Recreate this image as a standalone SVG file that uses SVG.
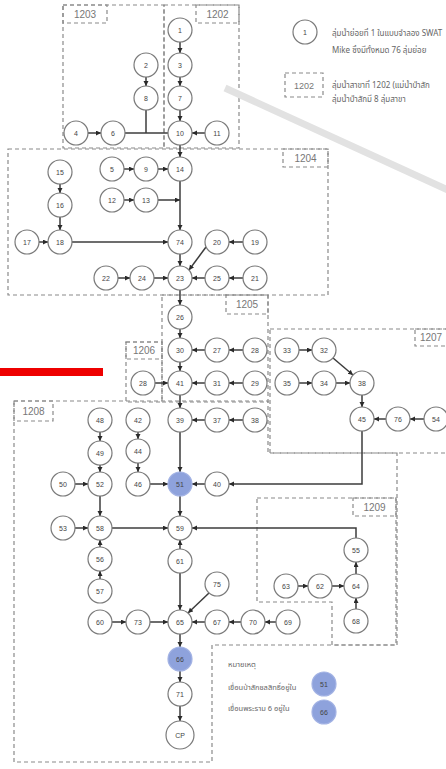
<svg xmlns="http://www.w3.org/2000/svg" width="446" height="769" viewBox="0 0 446 769">
<style>
  .bg{fill:#fff}
  .zone{fill:none;stroke:#8a8a8a;stroke-width:1.2;stroke-dasharray:4 3}
  .zl{font-family:"Liberation Sans",Arial,sans-serif;font-size:10px;fill:#777;text-anchor:middle}
  .n circle{fill:#fff;stroke:#7a7a7a;stroke-width:1.2}
  .n.dam circle{fill:#8ea2dc;stroke:#a3b3e4}
  .n text{font-family:"Liberation Sans",Arial,sans-serif;font-size:7px;fill:#444;text-anchor:middle}
  .e{fill:none;stroke:#3c3c3c;stroke-width:1.5}
  .th{font-family:"Noto Sans Thai","Noto Sans","DejaVu Sans",sans-serif;font-size:8px;fill:#666}
</style>
<defs>
  <marker id="ah" markerUnits="userSpaceOnUse" markerWidth="6" markerHeight="6" refX="5" refY="2.5" orient="auto">
    <path d="M0,0 L5,2.5 L0,5 Z" fill="#2a2a2a"/>
  </marker>
</defs>
<rect class="bg" x="0" y="0" width="446" height="769"/>

<!-- sub-basin zones -->
<g id="zones">
  <rect class="zone" x="63" y="5" width="101" height="143"/>
  <rect class="zone" x="63" y="5" width="44" height="18"/>
  <text class="zl" x="85" y="18">1203</text>
  <rect class="zone" x="164" y="5" width="75" height="143"/>
  <rect class="zone" x="196" y="5" width="43" height="18"/>
  <text class="zl" x="217.5" y="18">1202</text>
  <rect class="zone" x="8" y="149" width="320" height="146"/>
  <rect class="zone" x="283" y="149" width="45" height="18"/>
  <text class="zl" x="305.5" y="162">1204</text>
  <rect class="zone" x="162" y="295" width="106" height="107"/>
  <rect class="zone" x="226" y="295" width="42" height="19"/>
  <text class="zl" x="247" y="308">1205</text>
  <rect class="zone" x="126" y="342" width="36" height="60"/>
  <rect class="zone" x="126" y="342" width="36" height="17"/>
  <text class="zl" x="144" y="354">1206</text>
  <rect class="zone" x="270" y="329" width="190" height="124"/>
  <rect class="zone" x="415" y="329" width="45" height="17"/>
  <text class="zl" x="431" y="341">1207</text>
  <path class="zone" d="M14,401 H268 V453 H397 V645 H212 V762 H14 Z"/>
  <rect class="zone" x="14" y="401" width="39" height="20"/>
  <text class="zl" x="33.5" y="415">1208</text>
  <path class="zone" d="M257,498 H396 V645 H332 V602 H257 Z"/>
  <rect class="zone" x="353" y="498" width="43" height="18"/>
  <text class="zl" x="374.5" y="511">1209</text>
</g>

<!-- overlay marks -->
<line x1="225" y1="88" x2="450" y2="191" stroke="#e2e2e2" stroke-width="7"/>
<rect x="0" y="368" width="103" height="8" fill="#ee0000"/>

<!-- key -->
<g id="key">
  <g class="n"><circle cx="305" cy="32" r="12"/><text x="305" y="34.5">1</text></g>
  <text class="th" x="332" y="36">ลุ่มน้ำย่อยที่ 1 ในแบบจำลอง SWAT</text>
  <text class="th" x="332" y="53">Mike ซึ่งมีทั้งหมด 76 ลุ่มย่อย</text>
  <rect class="zone" x="285" y="73" width="38" height="24"/>
  <text class="zl" x="304" y="89" style="font-size:9px">1202</text>
  <text class="th" x="332" y="88">ลุ่มน้ำสาขาที่ 1202 (แม่น้ำป่าสัก</text>
  <text class="th" x="332" y="102">ลุ่มน้ำป่าสักมี 8 ลุ่มสาขา</text>
  <text class="th" x="228" y="667" style="font-size:7.5px">หมายเหตุ</text>
  <text class="th" x="228" y="690" style="font-size:7.5px">เขื่อนป่าสักชลสิทธิ์อยู่ใน</text>
  <text class="th" x="228" y="711" style="font-size:7.5px">เขื่อนพระราม 6 อยู่ใน</text>
  <g class="n dam"><circle cx="324" cy="684" r="12"/><text x="324" y="686.5">51</text></g>
  <g class="n dam"><circle cx="324" cy="712" r="12"/><text x="324" y="714.5">66</text></g>
</g>

<!-- connectors -->
<g id="connectors">
  <line class="e" x1="180" y1="42" x2="180" y2="53" marker-end="url(#ah)"/>
  <line class="e" x1="180" y1="77" x2="180" y2="86" marker-end="url(#ah)"/>
  <line class="e" x1="180" y1="110" x2="180" y2="121" marker-end="url(#ah)"/>
  <line class="e" x1="146" y1="77" x2="146" y2="86" marker-end="url(#ah)"/>
  <line class="e" x1="146" y1="110" x2="146" y2="133"/>
  <line class="e" x1="88" y1="133" x2="101" y2="133" marker-end="url(#ah)"/>
  <line class="e" x1="125" y1="133" x2="168" y2="133"/>
  <line class="e" x1="205" y1="133" x2="192" y2="133" marker-end="url(#ah)"/>
  <line class="e" x1="180" y1="145" x2="180" y2="157" marker-end="url(#ah)"/>
  <line class="e" x1="124" y1="169" x2="134" y2="169" marker-end="url(#ah)"/>
  <line class="e" x1="158" y1="169" x2="168" y2="169" marker-end="url(#ah)"/>
  <line class="e" x1="124" y1="200" x2="134" y2="200" marker-end="url(#ah)"/>
  <line class="e" x1="158" y1="200" x2="180" y2="200" marker-end="url(#ah)"/>
  <line class="e" x1="180" y1="181" x2="180" y2="230" marker-end="url(#ah)"/>
  <line class="e" x1="60" y1="184" x2="60" y2="193" marker-end="url(#ah)"/>
  <line class="e" x1="60" y1="217" x2="60" y2="230" marker-end="url(#ah)"/>
  <line class="e" x1="39" y1="242" x2="48" y2="242" marker-end="url(#ah)"/>
  <line class="e" x1="72" y1="242" x2="168" y2="242" marker-end="url(#ah)"/>
  <line class="e" x1="180" y1="254" x2="180" y2="266" marker-end="url(#ah)"/>
  <line class="e" x1="243" y1="242" x2="229" y2="242" marker-end="url(#ah)"/>
  <line class="e" x1="206" y1="247" x2="189" y2="270" marker-end="url(#ah)"/>
  <line class="e" x1="118" y1="278" x2="130" y2="278" marker-end="url(#ah)"/>
  <line class="e" x1="154" y1="278" x2="168" y2="278" marker-end="url(#ah)"/>
  <line class="e" x1="243" y1="278" x2="229" y2="278" marker-end="url(#ah)"/>
  <line class="e" x1="205" y1="278" x2="192" y2="278" marker-end="url(#ah)"/>
  <line class="e" x1="180" y1="290" x2="180" y2="305" marker-end="url(#ah)"/>
  <line class="e" x1="180" y1="329" x2="180" y2="338" marker-end="url(#ah)"/>
  <line class="e" x1="243" y1="350" x2="229" y2="350" marker-end="url(#ah)"/>
  <line class="e" x1="205" y1="350" x2="192" y2="350" marker-end="url(#ah)"/>
  <line class="e" x1="180" y1="362" x2="180" y2="371" marker-end="url(#ah)"/>
  <line class="e" x1="243" y1="383" x2="229" y2="383" marker-end="url(#ah)"/>
  <line class="e" x1="205" y1="383" x2="192" y2="383" marker-end="url(#ah)"/>
  <line class="e" x1="155" y1="383" x2="168" y2="383" marker-end="url(#ah)"/>
  <line class="e" x1="180" y1="395" x2="180" y2="408" marker-end="url(#ah)"/>
  <line class="e" x1="243" y1="420" x2="229" y2="420" marker-end="url(#ah)"/>
  <line class="e" x1="205" y1="420" x2="192" y2="420" marker-end="url(#ah)"/>
  <line class="e" x1="180" y1="432" x2="180" y2="472" marker-end="url(#ah)"/>
  <line class="e" x1="299" y1="350" x2="312" y2="350" marker-end="url(#ah)"/>
  <line class="e" x1="333" y1="358" x2="353" y2="375" marker-end="url(#ah)"/>
  <line class="e" x1="299" y1="383" x2="312" y2="383" marker-end="url(#ah)"/>
  <line class="e" x1="336" y1="383" x2="350" y2="383" marker-end="url(#ah)"/>
  <line class="e" x1="362" y1="395" x2="362" y2="407" marker-end="url(#ah)"/>
  <line class="e" x1="386" y1="419" x2="374" y2="419" marker-end="url(#ah)"/>
  <line class="e" x1="424" y1="419" x2="410" y2="419" marker-end="url(#ah)"/>
  <path class="e" d="M362,431 V484 H229" marker-end="url(#ah)"/>
  <line class="e" x1="205" y1="484" x2="192" y2="484" marker-end="url(#ah)"/>
  <line class="e" x1="138" y1="432" x2="138" y2="439" marker-end="url(#ah)"/>
  <line class="e" x1="138" y1="463" x2="138" y2="472" marker-end="url(#ah)"/>
  <line class="e" x1="150" y1="484" x2="168" y2="484" marker-end="url(#ah)"/>
  <line class="e" x1="100" y1="432" x2="100" y2="441" marker-end="url(#ah)"/>
  <line class="e" x1="100" y1="465" x2="100" y2="472" marker-end="url(#ah)"/>
  <line class="e" x1="75" y1="484" x2="88" y2="484" marker-end="url(#ah)"/>
  <line class="e" x1="100" y1="496" x2="100" y2="516" marker-end="url(#ah)"/>
  <line class="e" x1="75" y1="528" x2="88" y2="528" marker-end="url(#ah)"/>
  <line class="e" x1="112" y1="528" x2="168" y2="528" marker-end="url(#ah)"/>
  <line class="e" x1="180" y1="496" x2="180" y2="516" marker-end="url(#ah)"/>
  <line class="e" x1="100" y1="547" x2="100" y2="540" marker-end="url(#ah)"/>
  <line class="e" x1="100" y1="579" x2="100" y2="571" marker-end="url(#ah)"/>
  <line class="e" x1="180" y1="549" x2="180" y2="540" marker-end="url(#ah)"/>
  <path class="e" d="M356,538 V528 H192" marker-end="url(#ah)"/>
  <line class="e" x1="356" y1="574" x2="356" y2="562" marker-end="url(#ah)"/>
  <line class="e" x1="298" y1="586" x2="308" y2="586" marker-end="url(#ah)"/>
  <line class="e" x1="332" y1="586" x2="344" y2="586" marker-end="url(#ah)"/>
  <line class="e" x1="356" y1="609" x2="356" y2="598" marker-end="url(#ah)"/>
  <line class="e" x1="180" y1="573" x2="180" y2="610" marker-end="url(#ah)"/>
  <line class="e" x1="209" y1="593" x2="188" y2="613" marker-end="url(#ah)"/>
  <line class="e" x1="112" y1="622" x2="126" y2="622" marker-end="url(#ah)"/>
  <line class="e" x1="150" y1="622" x2="168" y2="622" marker-end="url(#ah)"/>
  <line class="e" x1="205" y1="622" x2="192" y2="622" marker-end="url(#ah)"/>
  <line class="e" x1="241" y1="622" x2="229" y2="622" marker-end="url(#ah)"/>
  <line class="e" x1="276" y1="622" x2="265" y2="622" marker-end="url(#ah)"/>
  <line class="e" x1="180" y1="634" x2="180" y2="647" marker-end="url(#ah)"/>
  <line class="e" x1="180" y1="671" x2="180" y2="682" marker-end="url(#ah)"/>
  <line class="e" x1="180" y1="706" x2="180" y2="721" marker-end="url(#ah)"/>
</g>

<!-- sub-basin nodes -->
<g id="n1" class="n"><circle cx="180" cy="30" r="12"/><text x="180" y="32.5">1</text></g>
<g id="n3" class="n"><circle cx="180" cy="65" r="12"/><text x="180" y="67.5">3</text></g>
<g id="n7" class="n"><circle cx="180" cy="98" r="12"/><text x="180" y="100.5">7</text></g>
<g id="n10" class="n"><circle cx="180" cy="133" r="12"/><text x="180" y="135.5">10</text></g>
<g id="n11" class="n"><circle cx="217" cy="133" r="12"/><text x="217" y="135.5">11</text></g>
<g id="n2" class="n"><circle cx="146" cy="65" r="12"/><text x="146" y="67.5">2</text></g>
<g id="n8" class="n"><circle cx="146" cy="98" r="12"/><text x="146" y="100.5">8</text></g>
<g id="n4" class="n"><circle cx="76" cy="133" r="12"/><text x="76" y="135.5">4</text></g>
<g id="n6" class="n"><circle cx="113" cy="133" r="12"/><text x="113" y="135.5">6</text></g>
<g id="n14" class="n"><circle cx="180" cy="169" r="12"/><text x="180" y="171.5">14</text></g>
<g id="n9" class="n"><circle cx="146" cy="169" r="12"/><text x="146" y="171.5">9</text></g>
<g id="n5" class="n"><circle cx="112" cy="169" r="12"/><text x="112" y="171.5">5</text></g>
<g id="n12" class="n"><circle cx="112" cy="200" r="12"/><text x="112" y="202.5">12</text></g>
<g id="n13" class="n"><circle cx="146" cy="200" r="12"/><text x="146" y="202.5">13</text></g>
<g id="n15" class="n"><circle cx="60" cy="172" r="12"/><text x="60" y="174.5">15</text></g>
<g id="n16" class="n"><circle cx="60" cy="205" r="12"/><text x="60" y="207.5">16</text></g>
<g id="n18" class="n"><circle cx="60" cy="242" r="12"/><text x="60" y="244.5">18</text></g>
<g id="n17" class="n"><circle cx="27" cy="242" r="12"/><text x="27" y="244.5">17</text></g>
<g id="n74" class="n"><circle cx="180" cy="242" r="12"/><text x="180" y="244.5">74</text></g>
<g id="n20" class="n"><circle cx="217" cy="242" r="12"/><text x="217" y="244.5">20</text></g>
<g id="n19" class="n"><circle cx="255" cy="242" r="12"/><text x="255" y="244.5">19</text></g>
<g id="n23" class="n"><circle cx="180" cy="278" r="12"/><text x="180" y="280.5">23</text></g>
<g id="n24" class="n"><circle cx="142" cy="278" r="12"/><text x="142" y="280.5">24</text></g>
<g id="n22" class="n"><circle cx="106" cy="278" r="12"/><text x="106" y="280.5">22</text></g>
<g id="n25" class="n"><circle cx="217" cy="278" r="12"/><text x="217" y="280.5">25</text></g>
<g id="n21" class="n"><circle cx="255" cy="278" r="12"/><text x="255" y="280.5">21</text></g>
<g id="n26" class="n"><circle cx="180" cy="317" r="12"/><text x="180" y="319.5">26</text></g>
<g id="n30" class="n"><circle cx="180" cy="350" r="12"/><text x="180" y="352.5">30</text></g>
<g id="n27" class="n"><circle cx="217" cy="350" r="12"/><text x="217" y="352.5">27</text></g>
<g id="n28" class="n"><circle cx="255" cy="350" r="12"/><text x="255" y="352.5">28</text></g>
<g id="n41" class="n"><circle cx="180" cy="383" r="12"/><text x="180" y="385.5">41</text></g>
<g id="n31" class="n"><circle cx="217" cy="383" r="12"/><text x="217" y="385.5">31</text></g>
<g id="n29" class="n"><circle cx="255" cy="383" r="12"/><text x="255" y="385.5">29</text></g>
<g id="n28w" class="n"><circle cx="143" cy="383" r="12"/><text x="143" y="385.5">28</text></g>
<g id="n39" class="n"><circle cx="180" cy="420" r="12"/><text x="180" y="422.5">39</text></g>
<g id="n37" class="n"><circle cx="217" cy="420" r="12"/><text x="217" y="422.5">37</text></g>
<g id="n38" class="n"><circle cx="255" cy="420" r="12"/><text x="255" y="422.5">38</text></g>
<g id="n33" class="n"><circle cx="287" cy="350" r="12"/><text x="287" y="352.5">33</text></g>
<g id="n32" class="n"><circle cx="324" cy="350" r="12"/><text x="324" y="352.5">32</text></g>
<g id="n35" class="n"><circle cx="287" cy="383" r="12"/><text x="287" y="385.5">35</text></g>
<g id="n34" class="n"><circle cx="324" cy="383" r="12"/><text x="324" y="385.5">34</text></g>
<g id="n36" class="n"><circle cx="362" cy="383" r="12"/><text x="362" y="385.5">38</text></g>
<g id="n45" class="n"><circle cx="362" cy="419" r="12"/><text x="362" y="421.5">45</text></g>
<g id="n76" class="n"><circle cx="398" cy="419" r="12"/><text x="398" y="421.5">76</text></g>
<g id="n54" class="n"><circle cx="436" cy="419" r="12"/><text x="436" y="421.5">54</text></g>
<g id="n48" class="n"><circle cx="100" cy="420" r="12"/><text x="100" y="422.5">48</text></g>
<g id="n42" class="n"><circle cx="138" cy="420" r="12"/><text x="138" y="422.5">42</text></g>
<g id="n49" class="n"><circle cx="100" cy="453" r="12"/><text x="100" y="455.5">49</text></g>
<g id="n44" class="n"><circle cx="138" cy="451" r="12"/><text x="138" y="453.5">44</text></g>
<g id="n52" class="n"><circle cx="100" cy="484" r="12"/><text x="100" y="486.5">52</text></g>
<g id="n46" class="n"><circle cx="138" cy="484" r="12"/><text x="138" y="486.5">46</text></g>
<g id="n51" class="n dam"><circle cx="180" cy="484" r="12"/><text x="180" y="486.5">51</text></g>
<g id="n40" class="n"><circle cx="217" cy="484" r="12"/><text x="217" y="486.5">40</text></g>
<g id="n50" class="n"><circle cx="63" cy="484" r="12"/><text x="63" y="486.5">50</text></g>
<g id="n58" class="n"><circle cx="100" cy="528" r="12"/><text x="100" y="530.5">58</text></g>
<g id="n53" class="n"><circle cx="63" cy="528" r="12"/><text x="63" y="530.5">53</text></g>
<g id="n59" class="n"><circle cx="180" cy="528" r="12"/><text x="180" y="530.5">59</text></g>
<g id="n56" class="n"><circle cx="100" cy="559" r="12"/><text x="100" y="561.5">56</text></g>
<g id="n61" class="n"><circle cx="180" cy="561" r="12"/><text x="180" y="563.5">61</text></g>
<g id="n57" class="n"><circle cx="100" cy="591" r="12"/><text x="100" y="593.5">57</text></g>
<g id="n75" class="n"><circle cx="217" cy="584" r="12"/><text x="217" y="586.5">75</text></g>
<g id="n55" class="n"><circle cx="356" cy="550" r="12"/><text x="356" y="552.5">55</text></g>
<g id="n64" class="n"><circle cx="356" cy="586" r="12"/><text x="356" y="588.5">64</text></g>
<g id="n62" class="n"><circle cx="320" cy="586" r="12"/><text x="320" y="588.5">62</text></g>
<g id="n63" class="n"><circle cx="286" cy="586" r="12"/><text x="286" y="588.5">63</text></g>
<g id="n68" class="n"><circle cx="356" cy="621" r="12"/><text x="356" y="623.5">68</text></g>
<g id="n69" class="n"><circle cx="288" cy="622" r="12"/><text x="288" y="624.5">69</text></g>
<g id="n70" class="n"><circle cx="253" cy="622" r="12"/><text x="253" y="624.5">70</text></g>
<g id="n67" class="n"><circle cx="217" cy="622" r="12"/><text x="217" y="624.5">67</text></g>
<g id="n65" class="n"><circle cx="180" cy="622" r="12"/><text x="180" y="624.5">65</text></g>
<g id="n73" class="n"><circle cx="138" cy="622" r="12"/><text x="138" y="624.5">73</text></g>
<g id="n60" class="n"><circle cx="100" cy="622" r="12"/><text x="100" y="624.5">60</text></g>
<g id="n66" class="n dam"><circle cx="180" cy="659" r="12"/><text x="180" y="661.5">66</text></g>
<g id="n71" class="n"><circle cx="180" cy="694" r="12"/><text x="180" y="696.5">71</text></g>
<g id="nCP" class="n"><circle cx="180" cy="735" r="14"/><text x="180" y="737.5">CP</text></g>
</svg>
